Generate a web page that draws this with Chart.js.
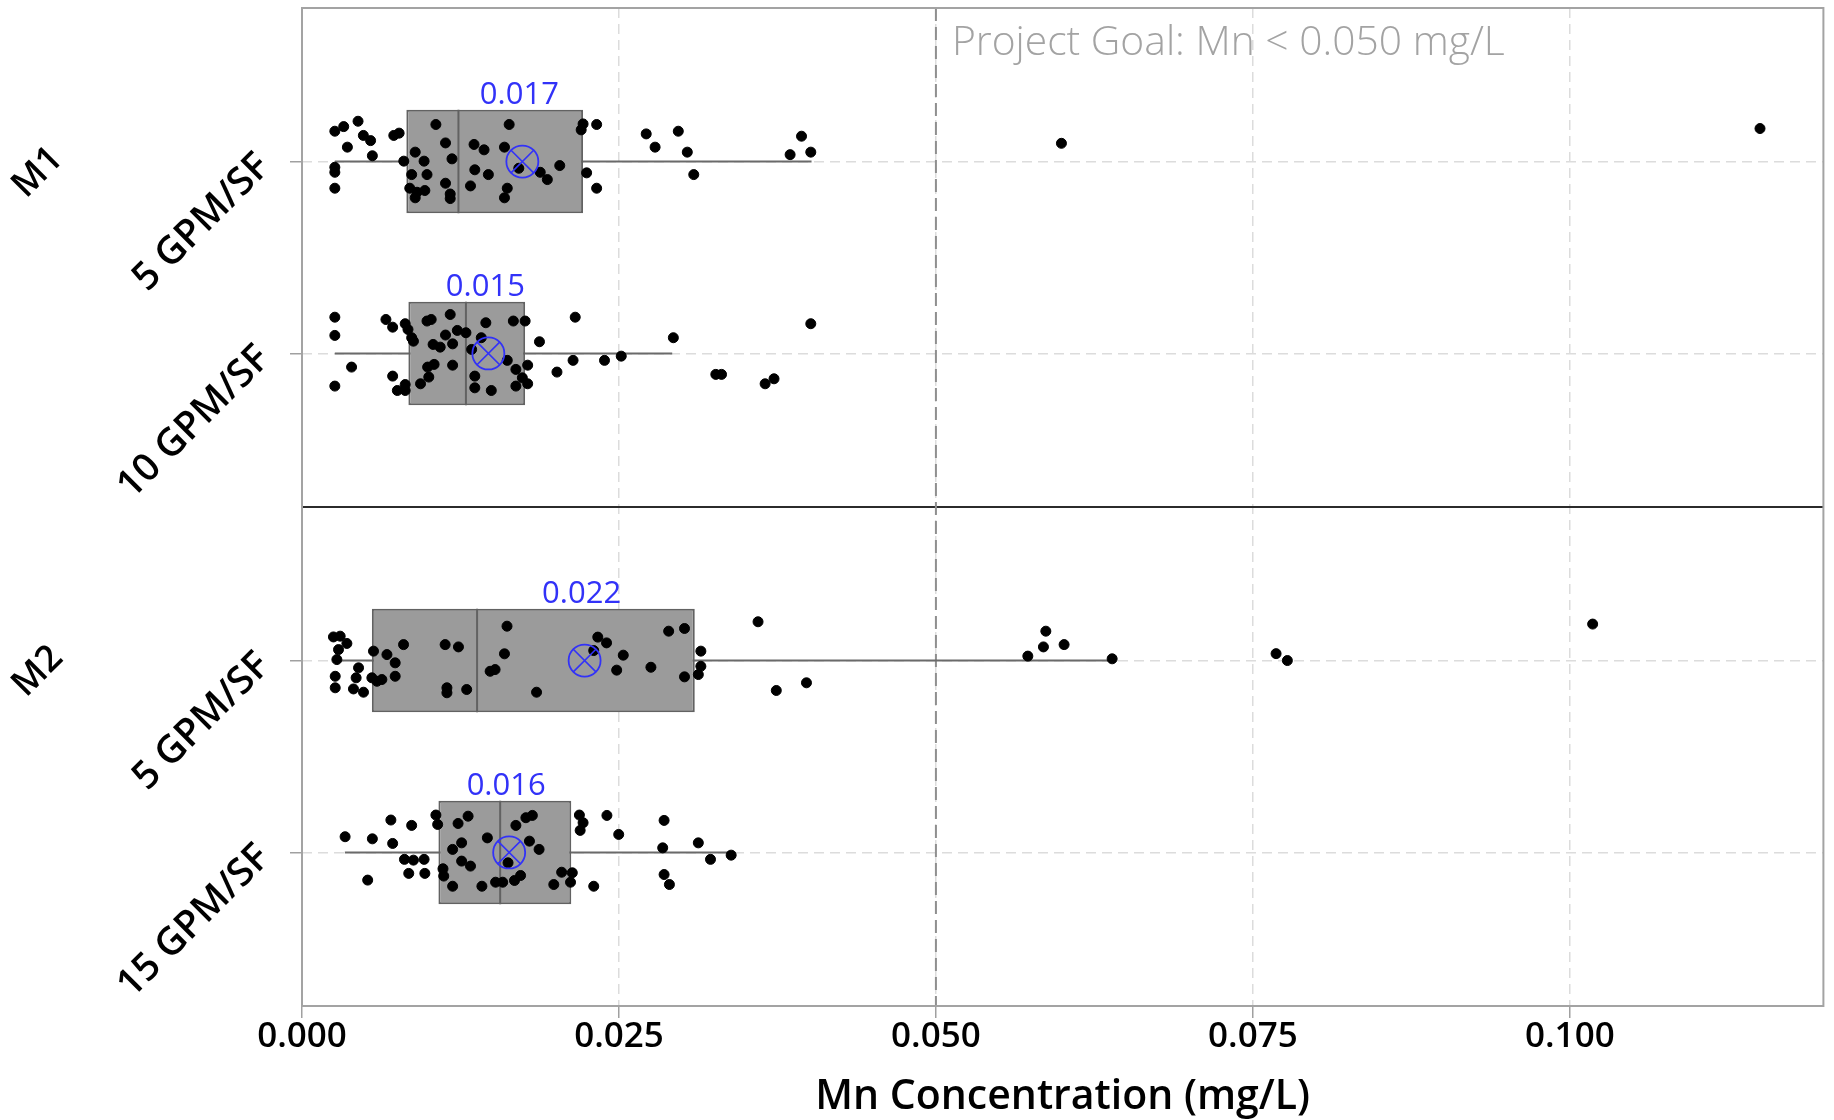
<!DOCTYPE html>
<html>
<head>
<meta charset="utf-8">
<script src="https://cdn.jsdelivr.net/npm/chart.js@4.4.1/dist/chart.umd.min.js"></script>
<style>
html,body{margin:0;padding:0;background:#ffffff;}
#wrap{width:1834px;height:1120px;position:relative;}
</style>
</head>
<body>
<div id="wrap"><canvas id="c" width="1834" height="1120"></canvas></div>
<script>
// ---------- data ----------
const categories = ['5 GPM/SF', '10 GPM/SF', '5 GPM/SF', '15 GPM/SF'];
const groupOf = ['M1', 'M1', 'M2', 'M2'];
const rowPositions = [1, 2, 3.6, 4.6];
const panelDivider = 2.8;
const yMin = 0.2, yMax = 5.4;
const xMin = 0, xMax = 0.12;
const xTickValues = [0, 0.025, 0.05, 0.075, 0.1];
const xTickLabels = ['0.000', '0.025', '0.050', '0.075', '0.100'];
const goalValue = 0.05;
const goalText = 'Project Goal: Mn < 0.050 mg/L';
const xTitle = 'Mn Concentration (mg/L)';

const q1 = [0.00823, 0.00839, 0.00551, 0.01076];
const median = [0.01234, 0.01293, 0.01381, 0.01563];
const q3 = [0.02217, 0.01760, 0.03098, 0.02124];
const whiskerLow = [0.00259, 0.00259, 0.00248, 0.00338];
const whiskerHigh = [0.04019, 0.02920, 0.06390, 0.03385];
const means = [0.01738, 0.01470, 0.02229, 0.01634];

// individual observations (x = concentration) and their vertical jitter (category units)
const m1g5 = [0.00259,0.00329,0.00442,0.00358,0.00484,0.00541,0.00555,0.00259,0.00259,0.00259,
  0.00724,0.00766,0.00803,0.00893,0.00963,0.00865,0.00986,0.00850,0.00907,0.00893,0.00969,
  0.01056,0.01132,0.01183,0.01132,0.01169,0.01169,
  0.01357,0.01436,0.01363,0.01470,0.01329,
  0.01634,0.01597,0.01619,0.01597,0.01710,0.01879,0.01935,0.02033,
  0.02217,0.02202,0.02324,0.02245,0.02324,
  0.02715,0.02785,0.02968,0.03039,0.03090,
  0.03940,0.03850,0.04013,
  0.0599,0.1150];
const m1g5Jitter = [-0.158,-0.182,-0.210,-0.075,-0.136,-0.109,-0.030,0.030,0.056,0.139,
  -0.136,-0.148,-0.002,-0.049,-0.002,0.068,0.068,0.139,0.160,0.189,0.151,
  -0.193,-0.097,-0.014,0.113,0.169,0.193,
  -0.089,-0.061,0.043,0.068,0.127,
  -0.193,-0.075,0.139,0.189,0.035,0.056,0.094,0.021,
  -0.196,-0.165,-0.193,0.059,0.139,
  -0.144,-0.075,-0.158,-0.049,0.068,
  -0.132,-0.036,-0.049,
  -0.095,-0.172];

const m1g10 = [0.00259,0.00259,0.00259,0.00391,0.00662,0.00715,0.00715,0.00752,0.00814,0.00836,
  0.00865,0.00879,0.00814,0.00814,0.00935,0.00986,0.01019,0.00991,0.01000,0.01042,
  0.01034,0.01090,0.01132,0.01169,0.01188,0.01188,0.01225,0.01293,0.01338,0.01414,
  0.01450,0.01363,0.01363,0.01493,0.01619,0.01667,0.01760,0.01687,0.01780,0.01738,
  0.01687,0.01780,0.01873,0.02011,0.02138,0.02155,0.02386,0.02518,0.02929,0.03264,
  0.03309,0.03653,0.03723,0.04013];
const m1g10Jitter = [-0.189,-0.094,0.170,0.071,-0.177,-0.137,0.118,0.193,-0.155,-0.125,
  -0.082,-0.064,0.162,0.193,0.158,-0.169,-0.177,0.071,0.123,0.057,
  -0.047,-0.033,-0.096,-0.203,-0.050,0.061,-0.120,-0.108,-0.021,-0.082,
  -0.160,0.118,0.179,0.193,0.036,-0.169,-0.169,0.083,0.061,0.127,
  0.170,0.158,-0.061,0.097,0.036,-0.189,0.036,0.014,-0.082,0.109,
  0.109,0.158,0.132,-0.155];

const m2g5 = [0.00248,0.00301,0.00354,0.00288,0.00275,0.00262,0.00262,0.00406,0.00485,0.00446,
  0.00427,0.00564,0.00670,0.00735,0.00735,0.00551,0.00630,0.00591,0.00801,0.01129,
  0.01234,0.01143,0.01143,0.01299,0.01484,0.01523,
  0.01617,0.01597,0.01850,0.02333,0.02402,0.02301,0.02534,0.02482,0.02752,0.02892,
  0.03017,0.03146,0.03146,0.03126,0.03017,0.03597,0.03741,0.03979,
  0.05725,0.05867,0.05848,0.06011,0.06390,0.07683,0.07772,0.1018];
const m2g5Jitter = [-0.123,-0.127,-0.089,-0.057,-0.005,0.082,0.142,0.148,0.165,0.038,
  0.090,-0.049,-0.031,0.012,0.082,0.090,0.099,0.108,-0.083,-0.083,
  -0.071,0.142,0.168,0.151,0.056,0.047,
  -0.179,-0.035,0.165,-0.122,-0.092,-0.052,-0.028,0.050,0.035,-0.153,
  -0.167,-0.049,0.030,0.073,0.085,-0.202,0.156,0.116,
  -0.023,-0.153,-0.071,-0.083,-0.009,-0.036,0.000,-0.190];

const m2g15 = [0.00340,0.00555,0.00518,0.00701,0.00715,0.00865,0.00808,0.00879,0.00963,0.00842,
  0.00969,0.01056,0.01070,0.01112,0.01118,0.01188,0.01231,0.01310,0.01259,0.01188,
  0.01259,0.01329,0.01419,0.01462,0.01527,0.01583,0.01625,0.01687,0.01766,0.01817,
  0.01794,0.01870,0.01724,0.01676,0.01986,0.02048,0.02132,0.02118,0.02188,0.02217,
  0.02194,0.02405,0.02498,0.02301,0.02856,0.02845,0.02856,0.02898,0.03126,0.03222,0.03385];
const m2g15Jitter = [-0.082,-0.071,0.144,-0.169,-0.047,-0.141,0.036,0.040,0.036,0.109,
  0.109,-0.195,-0.146,0.085,0.123,0.176,-0.151,-0.189,-0.050,-0.016,
  0.045,0.071,0.176,-0.076,0.155,0.155,0.054,-0.141,-0.181,-0.193,
  -0.059,-0.016,0.120,0.146,0.167,0.103,0.106,0.155,-0.195,-0.155,
  -0.115,-0.193,-0.094,0.176,-0.167,-0.024,0.115,0.167,-0.050,0.036,0.014];

const observations = [m1g5, m1g10, m2g5, m2g15];
const jitters = [m1g5Jitter, m1g10Jitter, m2g5Jitter, m2g15Jitter];

// ---------- styles ----------
const boxShare = 0.54;            // box thickness as share of category spacing
const boxHalf = boxShare / 2;
const FONT = '"Open Sans", "Noto Sans", sans-serif';
const meanColor = '#3232f8';

Chart.defaults.font.family = FONT;
Chart.defaults.color = '#000';

const datasets = [];
// panel divider
datasets.push({type:'line', data:[{x:xMin,y:panelDivider},{x:xMax,y:panelDivider}],
  borderColor:'#2b2b2b', borderWidth:2, pointRadius:0, order:20, clip:false});
// project goal line
datasets.push({type:'line', data:[{x:goalValue,y:yMin},{x:goalValue,y:yMax}],
  borderColor:'#8f8f8f', borderWidth:2, borderDash:[13,6], pointRadius:0, order:19});
// whiskers
rowPositions.forEach((r,i)=>{
  datasets.push({type:'line', data:[{x:whiskerLow[i],y:r},{x:whiskerHigh[i],y:r}],
    borderColor:'#6a6a6a', borderWidth:2, pointRadius:0, order:15});
});
// boxes
datasets.push({type:'bar', indexAxis:'y',
  data: rowPositions.map((r,i)=>({y:r, x:[q1[i], q3[i]]})),
  backgroundColor:'#9b9b9b', borderColor:'#626262', borderWidth:2, borderSkipped:false,
  categoryPercentage: boxShare, barPercentage: 1, order:12});
// medians
rowPositions.forEach((r,i)=>{
  datasets.push({type:'line', data:[{x:median[i],y:r-boxHalf},{x:median[i],y:r+boxHalf}],
    borderColor:'#626262', borderWidth:2, pointRadius:0, order:11});
});
// observations
observations.forEach((vals,i)=>{
  datasets.push({type:'scatter', data: vals.map((v,k)=>({x:v, y:rowPositions[i]+jitters[i][k]})),
    backgroundColor:'#000', borderColor:'#000', borderWidth:1, pointRadius:5, order:5});
});
// means: circle + X
datasets.push({type:'scatter', data: means.map((m,i)=>({x:m, y:rowPositions[i]})),
  pointStyle:'circle', pointRadius:16, backgroundColor:'rgba(0,0,0,0)', borderColor:meanColor, borderWidth:1.8, order:1});
datasets.push({type:'scatter', data: means.map((m,i)=>({x:m, y:rowPositions[i]})),
  pointStyle:'crossRot', pointRadius:16, borderColor:meanColor, borderWidth:1.6, order:0});

const annotations = {
  id:'annotations',
  afterDatasetsDraw(chart){
    const {ctx, chartArea:a, scales:{x, y}} = chart;
    ctx.save();
    // frame
    ctx.strokeStyle = '#a3a3a3';
    ctx.lineWidth = 2;
    ctx.strokeRect(a.left, a.top, a.right - a.left, a.bottom - a.top);
    // mean labels
    ctx.fillStyle = meanColor;
    ctx.font = '400 31px ' + FONT;
    ctx.textAlign = 'center';
    ctx.textBaseline = 'alphabetic';
    means.forEach((m,i)=>{
      ctx.fillText(m.toFixed(3), x.getPixelForValue(m) - 3, y.getPixelForValue(rowPositions[i]-boxHalf) - 6);
    });
    // goal text
    ctx.fillStyle = '#a3a3a3';
    ctx.font = '300 40.8px ' + FONT;
    ctx.textAlign = 'left';
    ctx.fillText(goalText, x.getPixelForValue(goalValue) + 16, a.top + 47);
    // group labels
    ctx.fillStyle = '#000';
    ctx.font = '600 36.5px ' + FONT;
    ctx.textAlign = 'center';
    ctx.textBaseline = 'middle';
    const seen = {};
    groupOf.forEach((g,i)=>{
      if (seen[g]) return; seen[g] = true;
      ctx.save();
      ctx.translate(38, y.getPixelForValue(rowPositions[i]) + 11);
      ctx.rotate(-Math.PI/4);
      ctx.fillText(g, 0, 0);
      ctx.restore();
    });
    ctx.restore();
  }
};

new Chart(document.getElementById('c'), {
  type:'scatter',
  data:{datasets},
  options:{
    responsive:false,
    animation:false,
    devicePixelRatio:1,
    events:[],
    layout:{autoPadding:false, padding:{left:0, right:10.6, top:8, bottom:0}},
    plugins:{legend:{display:false}, tooltip:{enabled:false}},
    scales:{
      x:{
        type:'linear', min:xMin, max:xMax, offset:false,
        afterBuildTicks(s){ s.ticks = xTickValues.map(v=>({value:v})); },
        afterFit(s){ s.height = 114; s.paddingLeft = 0; s.paddingRight = 0; },
        ticks:{ callback:(v,i)=>xTickLabels[i], font:{size:35, weight:'600', lineHeight:1.0}, color:'#000', padding:2, maxRotation:0, autoSkip:false },
        grid:{ color:'#dcdcdc', lineWidth:1.5, tickColor:'#a0a0a0', tickLength:12, tickWidth:1.5, tickBorderDash:[], offset:false },
        border:{ display:false, dash:[10,6] },
        title:{ display:true, text:xTitle, font:{size:41, weight:'600', lineHeight:1.0}, color:'#000', padding:{top:0, bottom:2.5} }
      },
      y:{
        type:'linear', min:yMin, max:yMax, reverse:true, offset:false,
        afterBuildTicks(s){ s.ticks = rowPositions.map(v=>({value:v})); },
        afterFit(s){ s.width = 302; s.paddingTop = 0; s.paddingBottom = 0; },
        ticks:{ callback:(v,i)=>categories[i], font:{size:38.5, weight:'600', lineHeight:1.2}, color:'#000',
          minRotation:45, maxRotation:50, padding:26, labelOffset:-1, autoSkip:false },
        grid:{ color:'#dcdcdc', lineWidth:1.5, tickColor:'#a0a0a0', tickLength:12, tickWidth:1.5, tickBorderDash:[], offset:false },
        border:{ display:false, dash:[10,6] }
      }
    }
  },
  plugins:[annotations]
});
</script>
</body>
</html>
